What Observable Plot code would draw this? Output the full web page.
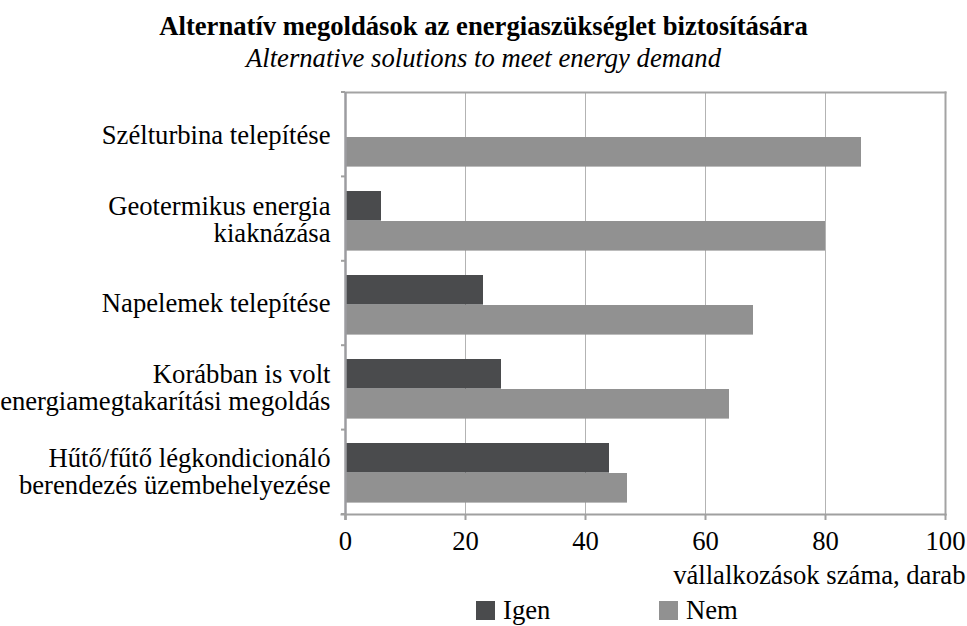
<!DOCTYPE html>
<html>
<head>
<meta charset="utf-8">
<script src="https://cdn.jsdelivr.net/npm/d3@7"></script>
<script src="https://cdn.jsdelivr.net/npm/@observablehq/plot@0.6"></script>
<style>
  html, body { margin: 0; padding: 0; background: #fff; overflow: hidden; }
  body { width: 967px; height: 626px; font-family: "Liberation Serif", "Times New Roman", serif; color: #000; }
  #head { padding-top: 10px; text-align: center; font-size: 26.67px; }
  #title { font-weight: bold; line-height: 32px; height: 32px; white-space: nowrap; }
  #subtitle { font-style: italic; line-height: 32px; height: 32px; white-space: nowrap; }
  #chart svg { display: block; }
  #chart svg, #chart svg text { font-family: "Liberation Serif", "Times New Roman", serif !important; font-size: 26.67px !important; }
  #legend { position: relative; height: 28px; font-size: 26.67px; }
  .item { position: absolute; top: 0; height: 28px; }
  .sw { position: absolute; top: 3px; width: 19px; height: 19px; }
  .lab { position: absolute; left: 27px; line-height: 26px; white-space: nowrap; top: -1px; }
</style>
</head>
<body>
<div id="head">
  <div id="title"></div>
  <div id="subtitle"></div>
</div>
<div id="chart"></div>
<div id="legend"></div>
<script>
const titleText = "Alternatív megoldások az energiaszükséglet biztosítására";
const subtitleText = "Alternative solutions to meet energy demand";
const xLabel = "vállalkozások száma, darab";

const categories = [
  "Szélturbina telepítése",
  "Geotermikus energia\nkiaknázása",
  "Napelemek telepítése",
  "Korábban is volt\nenergiamegtakarítási megoldás",
  "Hűtő/fűtő légkondicionáló\nberendezés üzembehelyezése"
];
const series = ["Igen", "Nem"];
const igenValues = [0, 6, 23, 26, 44];
const nemValues = [86, 80, 68, 64, 47];
const xTicks = [0, 20, 40, 60, 80, 100];
const gridTicks = [20, 40, 60, 80];

const seriesColors = ["#4a4b4d", "#919191"];

document.getElementById("title").textContent = titleText;
document.getElementById("subtitle").textContent = subtitleText;

const data = categories.map((c, i) => ({cat: c, igen: igenValues[i], nem: nemValues[i]}));

const axisGray = "#a0a0a0";

const chart = Plot.plot({
  width: 967,
  height: 524,
  marginLeft: 345,
  marginRight: 22,
  marginTop: 18,
  marginBottom: 84,
  style: {
    fontFamily: "Liberation Serif, Times New Roman, serif",
    fontSize: "26.67px",
    color: "black",
    background: "white",
    overflow: "visible"
  },
  x: {domain: [0, 100]},
  y: {domain: categories, padding: 0},
  color: {domain: series, range: seriesColors},
  marks: [
    Plot.ruleX(gridTicks, {stroke: "#b3b3b3", strokeWidth: 1}),
    Plot.barX(data, {x: "igen", y: "cat", fill: () => series[0], insetTop: 14, insetBottom: 40.4}),
    Plot.barX(data, {x: "nem", y: "cat", fill: () => series[1], insetTop: 44, insetBottom: 10.4}),
    Plot.frame({anchor: "top", stroke: "#a3a3a3", strokeWidth: 2}),
    Plot.frame({anchor: "right", stroke: "#a3a3a3", strokeWidth: 2}),
    Plot.frame({anchor: "bottom", stroke: axisGray, strokeWidth: 2, insetLeft: -4}),
    Plot.ruleX([0], {stroke: "#9c9ca0", strokeWidth: 2.5, insetBottom: -6}),
    Plot.axisX({ticks: xTicks, tickSize: 6, tickPadding: 11, stroke: axisGray, strokeWidth: 2, fill: "black", label: null}),
    Plot.axisY({tickSize: 0, tickPadding: 15, label: null, lineHeight: 1.03, fill: "black"}),
    Plot.text([xLabel], {text: d => d, frameAnchor: "bottom-right", dx: 20, dy: 69, textAnchor: "end", lineAnchor: "bottom", fill: "black"})
  ]
});

document.getElementById("chart").appendChild(chart);

// category boundary ticks on the left axis, from the y scale
(function () {
  const yS = chart.scale("y");
  const xS = chart.scale("x");
  const band = d3.scaleBand().domain(yS.domain).range(yS.range)
    .paddingInner(yS.paddingInner ?? 0).paddingOuter(yS.paddingOuter ?? 0).align(yS.align ?? 0.5);
  const x0 = xS.apply ? xS.apply(0) : d3.scaleLinear().domain(xS.domain).range(xS.range)(0);
  const bounds = categories.map(c => band(c));
  bounds.push(band(categories[categories.length - 1]) + band.bandwidth());
  d3.select(chart).append("g")
    .selectAll("line").data(bounds).join("line")
    .attr("x1", x0 - 4).attr("x2", x0)
    .attr("y1", d => d).attr("y2", d => d)
    .attr("stroke", axisGray).attr("stroke-width", 2);
})();

// legend from the color scale
(function () {
  const cs = chart.scale("color");
  const lefts = [476, 659];
  const leg = document.getElementById("legend");
  cs.domain.forEach((name, i) => {
    const item = document.createElement("div");
    item.className = "item";
    item.style.left = lefts[i] + "px";
    const sw = document.createElement("div");
    sw.className = "sw";
    sw.style.background = cs.range[i];
    const lab = document.createElement("div");
    lab.className = "lab";
    lab.textContent = name;
    item.appendChild(sw);
    item.appendChild(lab);
    leg.appendChild(item);
  });
})();
</script>
</body>
</html>
